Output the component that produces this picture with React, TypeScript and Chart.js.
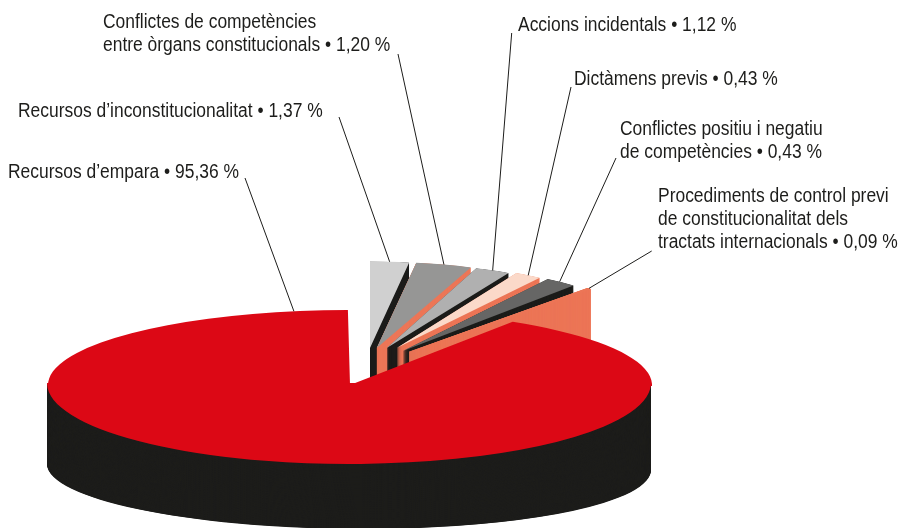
import React, { useEffect, useRef } from "react";
import { Chart, registerables } from "chart.js";

Chart.register(...registerables);

// Data
const categories = [
  "Recursos d’empara",
  "Recursos d’inconstitucionalitat",
  "Conflictes de competències entre òrgans constitucionals",
  "Accions incidentals",
  "Dictàmens previs",
  "Conflictes positiu i negatiu de competències",
  "Procediments de control previ de constitucionalitat dels tractats internacionals",
];
const percentages = [95.36, 1.37, 1.2, 1.12, 0.43, 0.43, 0.09];
// The picture does not draw slices in proportion: these are the sweeps as drawn (degrees).
const drawnSweeps = [327, 8.6, 12.4, 7.9, 6.1, 7.1, 0.8];
const labelLines = [
  ["Recursos d’empara"],
  ["Recursos d’inconstitucionalitat"],
  ["Conflictes de competències", "entre òrgans constitucionals"],
  ["Accions incidentals"],
  ["Dictàmens previs"],
  ["Conflictes positiu i negatiu", "de competències"],
  ["Procediments de control previ", "de constitucionalitat dels", "tractats internacionals"],
];

// Layout and styles
const topColors = ["#dc0815", "#d0d0d0", "#969695", "#b0b0b0", "#fbd9c9", "#666665", "#ec7657"];
const sideColors = ["#1d1d1b", "#1d1d1b", "#ec7657", "#1d1d1b", "#ec7657", "#1d1d1b", "#ec7657"];
const sideBorder = [0, 0, 0, 0, 0, 0, 1.5];
const pivotX = [350, 370, 376.7, 386.7, 396.7, 402.7, 409.3];
const pivotY = [385, 348, 348, 348, 348, 351, 351.7];
const radiusX = [302, 262, 261.5, 258, 256.5, 262, 263];
const squash = [0.2483, 0.33, 0.33, 0.33, 0.33, 0.33, 0.33];
const turn = [0, 0.4, 0.5, -0.3, -0.7, -1, 1];
const fanDepth = 60;
const leaderFraction = [0.9685, 0.5, 0.5, 0.5, 0.5, 0.45, 0.5];
const leaderStartX = [245, 339, 398, 511.7, 571, 616, 651.7];
const leaderStartY = [178, 117, 54, 33, 87, 158, 251];
const labelX = [8, 18, 103, 518, 574, 620, 658];
const labelY = [178, 117, 28, 31, 85, 135, 202];
const lineGap = 23;
const textStretch = 0.872;
const FONT = '20px "Liberation Sans", sans-serif';
const TEXT = "#1d1d1b";
// big slice: the front half of the disc and the lower rim are flatter/rounder than the back
const frontPivotX = 349;
const frontPivotY = 383;
const frontRadiusY = 81;
const wallHeight = 84;
const wallFootRadiusY = 62;
const wallFootTilt = 0.01;

const formatPct = (v: number) => v.toFixed(2).replace(".", ",") + " %";

function place(
  ctx: CanvasRenderingContext2D,
  arc: any,
  x: number,
  y: number,
  rx: number,
  ry: number,
  rotDeg: number,
  fn: () => void
) {
  const R = arc.outerRadius;
  ctx.save();
  ctx.translate(x, y);
  ctx.scale(rx / R, ry / R);
  ctx.rotate((rotDeg * Math.PI) / 180);
  ctx.translate(-arc.x, -arc.y);
  fn();
  ctx.restore();
}

const pie3d = {
  id: "pie3d",
  beforeDatasetDraw(chart: any) {
    const ctx = chart.ctx as CanvasRenderingContext2D;
    const arcs = chart.getDatasetMeta(0).data as any[];
    // fan of small slices, each with its extruded side
    for (let i = 1; i < arcs.length; i++) {
      const arc = arcs[i];
      const side = Object.create(arc);
      side.options = {
        ...arc.options,
        backgroundColor: sideColors[i],
        borderColor: sideColors[i],
        borderWidth: sideBorder[i],
      };
      const ry = radiusX[i] * squash[i];
      for (let d = fanDepth; d > 0; d -= 0.25) {
        place(ctx, arc, pivotX[i], pivotY[i] + d, radiusX[i], ry, turn[i], () => side.draw(ctx));
      }
      place(ctx, arc, pivotX[i], pivotY[i], radiusX[i], ry, turn[i], () => arc.draw(ctx));
    }
    // big slice: rim wall
    const big = arcs[0];
    const wall = Object.create(big);
    wall.options = { ...big.options, backgroundColor: sideColors[0] };
    for (let k = wallHeight * 2; k >= 0; k--) {
      const t = k / (wallHeight * 2);
      const cy = frontPivotY + wallHeight * t;
      const ry = frontRadiusY + (wallFootRadiusY - frontRadiusY) * t;
      ctx.save();
      ctx.beginPath();
      ctx.rect(0, cy - 4 * t, chart.width, chart.height);
      ctx.clip();
      ctx.translate(frontPivotX, cy);
      ctx.transform(1, wallFootTilt * t, 0, 1, 0, 0);
      ctx.translate(-frontPivotX, -cy);
      place(ctx, big, frontPivotX, cy, radiusX[0], ry, 0, () => wall.draw(ctx));
      ctx.restore();
    }
    // big slice: front half of the top face
    ctx.save();
    ctx.beginPath();
    ctx.rect(0, frontPivotY, chart.width, chart.height);
    ctx.clip();
    place(ctx, big, frontPivotX, frontPivotY, radiusX[0], frontRadiusY, 0, () => big.draw(ctx));
    ctx.restore();
    // big slice: back half of the top face, with the notch
    ctx.save();
    ctx.beginPath();
    ctx.rect(0, 0, chart.width, pivotY[0] + 1);
    ctx.clip();
    place(ctx, big, pivotX[0], pivotY[0], radiusX[0], radiusX[0] * squash[0], 0, () => big.draw(ctx));
    ctx.restore();
    return false;
  },
  afterDatasetsDraw(chart: any) {
    const ctx = chart.ctx as CanvasRenderingContext2D;
    const arcs = chart.getDatasetMeta(0).data as any[];
    ctx.save();
    ctx.strokeStyle = TEXT;
    ctx.lineWidth = 1;
    arcs.forEach((arc, i) => {
      const a = arc.startAngle + (arc.endAngle - arc.startAngle) * leaderFraction[i] + (turn[i] * Math.PI) / 180;
      const ex = pivotX[i] + radiusX[i] * Math.cos(a);
      const ey = pivotY[i] + radiusX[i] * squash[i] * Math.sin(a);
      ctx.beginPath();
      ctx.moveTo(leaderStartX[i], leaderStartY[i]);
      ctx.lineTo(ex, ey);
      ctx.stroke();
    });
    ctx.fillStyle = TEXT;
    ctx.font = FONT;
    ctx.textBaseline = "alphabetic";
    ctx.textAlign = "left";
    labelLines.forEach((lines, i) => {
      lines.forEach((line, j) => {
        const text = j === lines.length - 1 ? `${line} • ${formatPct(percentages[i])}` : line;
        ctx.save();
        ctx.translate(labelX[i], labelY[i] + j * lineGap);
        ctx.scale(textStretch, 1);
        ctx.fillText(text, 0, 0);
        ctx.restore();
      });
    });
    ctx.restore();
  },
};

export default function App() {
  const ref = useRef<HTMLCanvasElement>(null);
  useEffect(() => {
    document.body.style.margin = "0";
    document.body.style.background = "#fff";
    const chart = new Chart(ref.current!, {
      type: "pie",
      data: {
        labels: categories,
        datasets: [{ data: drawnSweeps, backgroundColor: topColors, borderWidth: 0 }],
      },
      options: {
        responsive: false,
        animation: false,
        devicePixelRatio: 1,
        rotation: 32.6,
        circumference: drawnSweeps.reduce((a, b) => a + b, 0),
        layout: { padding: 0 },
        plugins: { legend: { display: false }, tooltip: { enabled: false } },
      },
      plugins: [pie3d],
    } as any);
    return () => chart.destroy();
  }, []);
  return <canvas ref={ref} width={902} height={528} style={{ display: "block" }} />;
}
